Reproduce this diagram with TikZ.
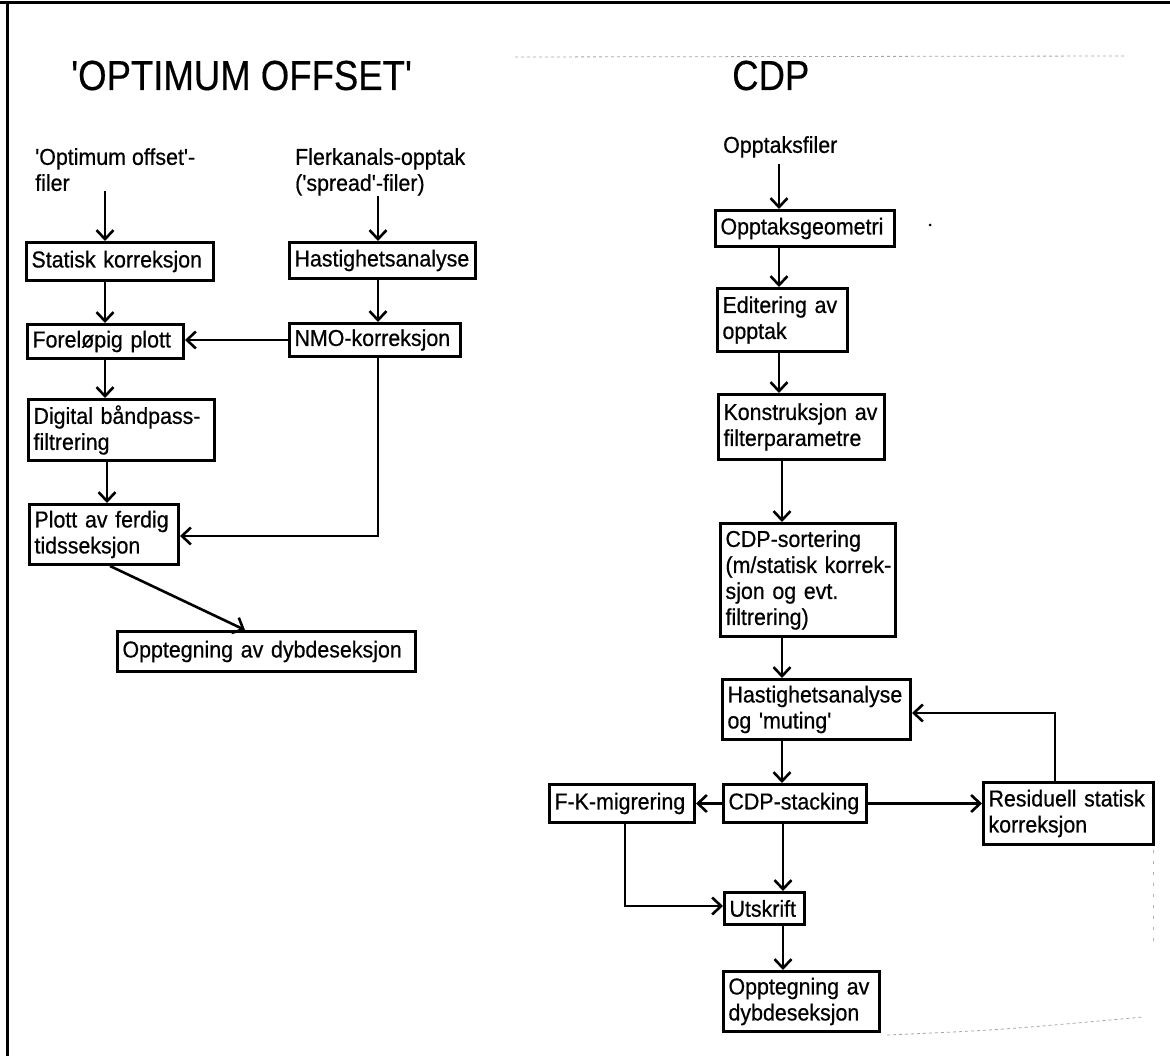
\documentclass[tikz,border=0pt]{standalone}
\usepackage{fontspec}
\newfontfamily\bodyfont{Liberation Sans}[FakeStretch=0.93, FakeBold=0.6]
\newfontfamily\titlefont{Liberation Sans}[FakeStretch=0.87, FakeBold=0.4]
\usetikzlibrary{arrows.meta}
\begin{document}
\begin{tikzpicture}[x=1pt,y=-1pt,
  every node/.style={font=\bodyfont\fontsize{23}{26}\selectfont},
  box/.style={draw, line width=3pt, rectangle, inner xsep=5pt, inner ysep=0pt, anchor=north west, align=left},
  lbl/.style={inner sep=0pt, anchor=north west, align=left},
  arr/.style={line width=2.6pt, -{Straight Barb[length=9pt,width=17pt]}},
  ttl/.style={font=\titlefont\fontsize{42}{48}\selectfont, inner sep=0pt, anchor=base west},
  scan/.style={gray!70, line width=0.8pt, dashed}]
\useasboundingbox (0,0) rectangle (1170,1056);
% frame
\draw[line width=3pt] (0,3) -- (1170,3);
\draw[line width=3pt] (7.5,3) -- (7.5,1056);
\draw[scan] (515,57) -- (1127,56);
\draw[scan] (887,1035) .. controls (1000,1030) .. (1143,1017);
\draw[gray!60, line width=0.8pt, dash pattern=on 3pt off 8pt] (1153,850) -- (1153,947);
\fill (930,225) circle (1.5);
% titles
\node[ttl] (t1) at (71,90) {'OPTIMUM OFFSET'};
\node[ttl] (t2) at (732,90) {CDP};
% helper coordinates
\coordinate (xa) at (105,0);
\coordinate (xb) at (107,0);
\coordinate (xc) at (378,0);
\coordinate (xd) at (110,0);
\coordinate (xe) at (245,0);
\coordinate (xr1) at (779,0);
\coordinate (xr2) at (782,0);
\coordinate (xr3) at (783,0);
\coordinate (xf) at (625,0);
\coordinate (xg) at (1055,0);
\coordinate (ya) at (0,536);
\coordinate (yb) at (0,713);
\coordinate (yc) at (0,906);
% left column
\node[lbl] (txt1) at (35,148) {\mbox{'Optimum offset'-}\\filer};
\node[lbl] (txt2) at (295,148) {Flerkanals-opptak\\\mbox{('spread'-filer)}};
\node[box, text width=177pt, minimum height=38pt] (stat) at (25,241) {\mbox{Statisk korreksjon}};
\node[box, text width=176pt, minimum height=36pt] (hast1) at (288,241) {Hastighetsanalyse};
\node[box, text width=146pt, minimum height=34pt] (forel) at (26,323) {\mbox{Foreløpig plott}};
\node[box, text width=161pt, minimum height=33pt] (nmo) at (288,322) {NMO-korreksjon};
\node[box, text width=176pt, minimum height=61pt] (digi) at (27,398) {\mbox{Digital båndpass-}\\filtrering};
\node[box, text width=139pt, minimum height=60pt] (plott) at (28,503) {\mbox{Plott av ferdig}\\tidsseksjon};
\node[box, text width=288pt, minimum height=40pt] (oppL) at (116,630) {\mbox{Opptegning av dybdeseksjon}};
% right column
\node[lbl] (txt3) at (723,136) {Opptaksfiler};
\node[box, text width=169pt, minimum height=36pt] (geo) at (714,209) {Opptaksgeometri};
\node[box, text width=120pt, minimum height=63pt] (edit) at (716,287) {\mbox{Editering av}\\opptak};
\node[box, text width=156pt, minimum height=65pt] (kons) at (717,393) {\mbox{Konstruksjon av}\\filterparametre};
\node[box, text width=165pt, minimum height=113pt] (sort) at (719,522) {CDP-sortering\\\mbox{(m/statisk korrek-}\\\mbox{sjon og evt.}\\filtrering)};
\node[box, text width=178pt, minimum height=60pt] (hast2) at (721,678) {Hastighetsanalyse\\\mbox{og 'muting'}};
\node[box, text width=133pt, minimum height=38pt] (stack) at (722,783) {CDP-stacking};
\node[box, text width=135pt, minimum height=38pt] (fk) at (548,783) {F-K-migrering};
\node[box, text width=160pt, minimum height=62pt] (resid) at (982,781) {\mbox{Residuell statisk}\\korreksjon};
\node[box, text width=70pt, minimum height=32pt] (uts) at (723,891) {Utskrift};
\node[box, text width=146pt, minimum height=60pt] (oppR) at (722,970) {\mbox{Opptegning av}\\dybdeseksjon};
% left connectors
\draw[arr] (txt1.south -| xa) -- (stat.north -| xa);
\draw[arr] (txt2.south -| xc) -- (hast1.north -| xc);
\draw[arr] (stat.south -| xa) -- (forel.north -| xa);
\draw[arr] (hast1.south -| xc) -- (nmo.north -| xc);
\draw[arr] (nmo.west) -- (forel.east |- nmo.west);
\draw[arr] (forel.south -| xa) -- (digi.north -| xa);
\draw[arr] (digi.south -| xb) -- (plott.north -| xb);
\draw[arr] (nmo.south -| xc) -- (xc |- ya) -- (plott.east |- ya);
\draw[arr] (plott.south -| xd) -- (oppL.north -| xe);
% right connectors
\draw[arr] ([yshift=-6pt]txt3.south -| xr1) -- (geo.north -| xr1);
\draw[arr] (geo.south -| xr1) -- (edit.north -| xr1);
\draw[arr] (edit.south -| xr1) -- (kons.north -| xr1);
\draw[arr] (kons.south -| xr2) -- (sort.north -| xr2);
\draw[arr] (sort.south -| xr2) -- (hast2.north -| xr2);
\draw[arr] (hast2.south -| xr2) -- (stack.north -| xr2);
\draw[arr] (stack.west) -- (fk.east |- stack.west);
\draw[arr] (stack.east) -- (resid.west |- stack.east);
\draw[arr] (resid.north -| xg) -- (xg |- yb) -- (hast2.east |- yb);
\draw[arr] (stack.south -| xr3) -- (uts.north -| xr3);
\draw[arr] (fk.south -| xf) -- (xf |- yc) -- (uts.west |- yc);
\draw[arr] (uts.south -| xr3) -- (oppR.north -| xr3);
\end{tikzpicture}
\end{document}
